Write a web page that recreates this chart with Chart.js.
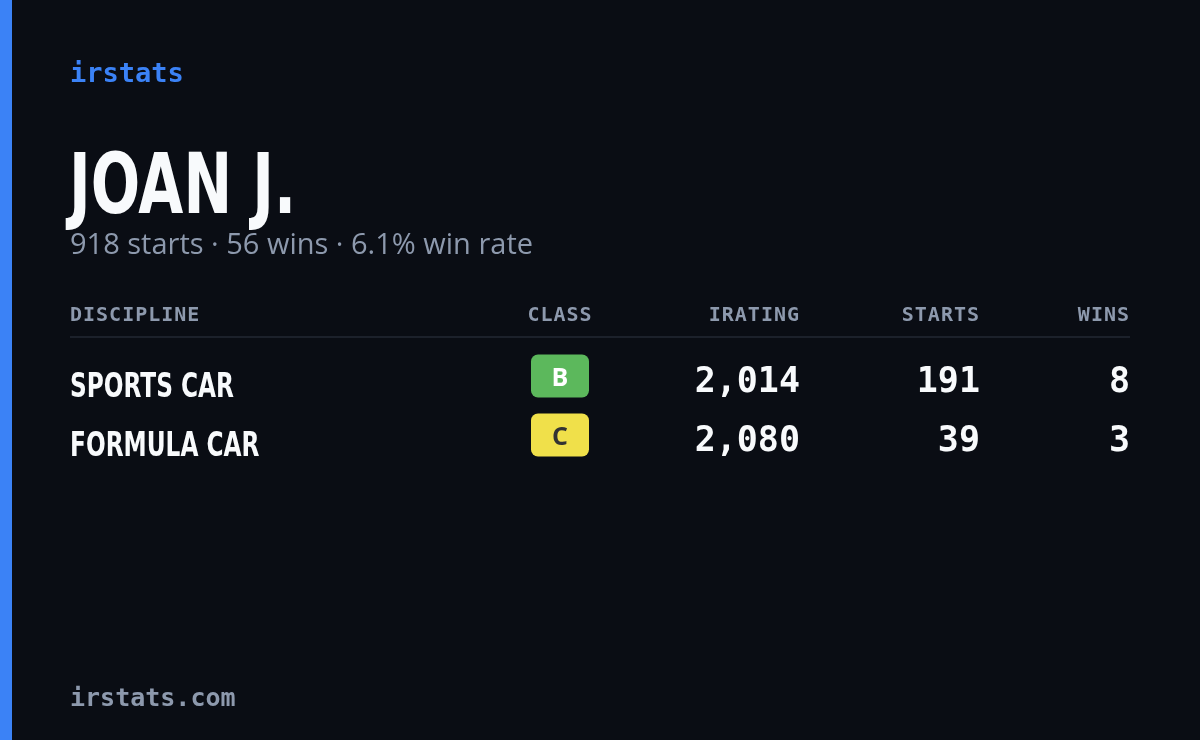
<!DOCTYPE html>
<html>
<head>
<meta charset="utf-8">
<script src="https://cdn.jsdelivr.net/npm/chart.js@4"></script>
<style>
  html, body { margin: 0; padding: 0; background: #0a0d14; }
  #wrap { width: 1200px; height: 740px; position: relative; }
</style>
</head>
<body>
<div id="wrap"><canvas id="chart" width="1200" height="740"></canvas></div>
<script>
const driverName = "JOAN J.";
const summary = "918 starts · 56 wins · 6.1% win rate";
const columns = ["DISCIPLINE", "CLASS", "IRATING", "STARTS", "WINS"];
const disciplines = ["SPORTS CAR", "FORMULA CAR"];
const classes = ["B", "C"];
const iratings = [2014, 2080];
const starts = [191, 39];
const wins = [8, 3];

const classColors = { B: "#5cb85c", C: "#f0e04a" };
const classText = { B: "#ffffff", C: "#333333" };

function roundRect(ctx, x, y, w, h, r) {
  ctx.beginPath();
  ctx.moveTo(x + r, y);
  ctx.arcTo(x + w, y, x + w, y + h, r);
  ctx.arcTo(x + w, y + h, x, y + h, r);
  ctx.arcTo(x, y + h, x, y, r);
  ctx.arcTo(x, y, x + w, y, r);
  ctx.closePath();
}

// condensed text: no narrow font installed, so squeeze horizontally
function narrowText(ctx, text, x, y, sx) {
  ctx.save();
  ctx.translate(x, y);
  ctx.scale(sx, 1);
  ctx.textAlign = "left";
  ctx.fillText(text, 0, 0);
  ctx.restore();
}

const cardPlugin = {
  id: "card",
  beforeDraw(chart) {
    const ctx = chart.ctx;
    ctx.save();
    ctx.fillStyle = "#0a0d14";
    ctx.fillRect(0, 0, chart.width, chart.height);
    ctx.fillStyle = "#3b82f6";
    ctx.fillRect(0, 0, 12, chart.height);
    ctx.restore();
  },
  afterDraw(chart) {
    const ctx = chart.ctx;
    const y = chart.scales.y;
    const left = chart.chartArea.left, right = chart.chartArea.right;
    const colX = { cls: 560, ir: 800, st: 980, wi: 1130 };
    ctx.save();
    ctx.textBaseline = "alphabetic";

    ctx.fillStyle = "#3b82f6";
    ctx.font = "bold 27px 'DejaVu Sans Mono'";
    ctx.textAlign = "left";
    ctx.fillText("irstats", left, 82);

    ctx.fillStyle = "#f8fafc";
    ctx.font = "bold 84px 'DejaVu Sans Condensed', sans-serif";
    narrowText(ctx, driverName, left - 1, 213, 0.77);

    ctx.fillStyle = "#8d99ad";
    ctx.font = "29px 'Open Sans', sans-serif";
    ctx.fillText(summary, left, 254);

    // header
    ctx.font = "bold 20px 'DejaVu Sans Mono'";
    ctx.letterSpacing = "1px";
    ctx.fillStyle = "#8d99ad";
    ctx.textAlign = "left";
    ctx.fillText(columns[0], left, 321);
    ctx.textAlign = "center";
    ctx.fillText(columns[1], colX.cls, 321);
    ctx.textAlign = "right";
    ctx.fillText(columns[2], colX.ir, 321);
    ctx.fillText(columns[3], colX.st, 321);
    ctx.fillText(columns[4], colX.wi, 321);
    ctx.letterSpacing = "0px";

    ctx.strokeStyle = "#1c212b";
    ctx.lineWidth = 2;
    ctx.beginPath();
    ctx.moveTo(left, 337);
    ctx.lineTo(right, 337);
    ctx.stroke();

    disciplines.forEach((d, i) => {
      const cy = y.getPixelForValue(i);
      ctx.fillStyle = "#f8fafc";
      ctx.font = "bold 34px 'DejaVu Sans Condensed', sans-serif";
      narrowText(ctx, d, left, cy + 17, 0.76);

      const c = classes[i];
      ctx.fillStyle = classColors[c];
      roundRect(ctx, colX.cls - 29, cy - 25, 58, 43, 7);
      ctx.fill();
      ctx.fillStyle = classText[c];
      ctx.textAlign = "center";
      ctx.font = "bold 25px 'Open Sans', sans-serif";
      ctx.fillText(c, colX.cls, cy + 6);

      ctx.fillStyle = "#f8fafc";
      ctx.textAlign = "right";
      ctx.font = "bold 35px 'DejaVu Sans Mono'";
      ctx.fillText(iratings[i].toLocaleString("en-US"), colX.ir, cy + 12);
      ctx.fillText(String(starts[i]), colX.st, cy + 12);
      ctx.fillText(String(wins[i]), colX.wi, cy + 12);
    });

    ctx.fillStyle = "#8d99ad";
    ctx.textAlign = "left";
    ctx.font = "bold 25px 'DejaVu Sans Mono'";
    ctx.fillText("irstats.com", left, 706);
    ctx.restore();
  }
};

new Chart(document.getElementById("chart"), {
  type: "bar",
  data: {
    labels: disciplines,
    datasets: [{ data: iratings, backgroundColor: "rgba(0,0,0,0)", borderWidth: 0 }]
  },
  options: {
    indexAxis: "y",
    responsive: false,
    animation: false,
    events: [],
    layout: { padding: { left: 70, right: 70, top: 350, bottom: 272 } },
    plugins: { legend: { display: false }, tooltip: { enabled: false } },
    scales: {
      x: { display: false, beginAtZero: true },
      y: { display: false, offset: true }
    }
  },
  plugins: [cardPlugin]
});
</script>
</body>
</html>
